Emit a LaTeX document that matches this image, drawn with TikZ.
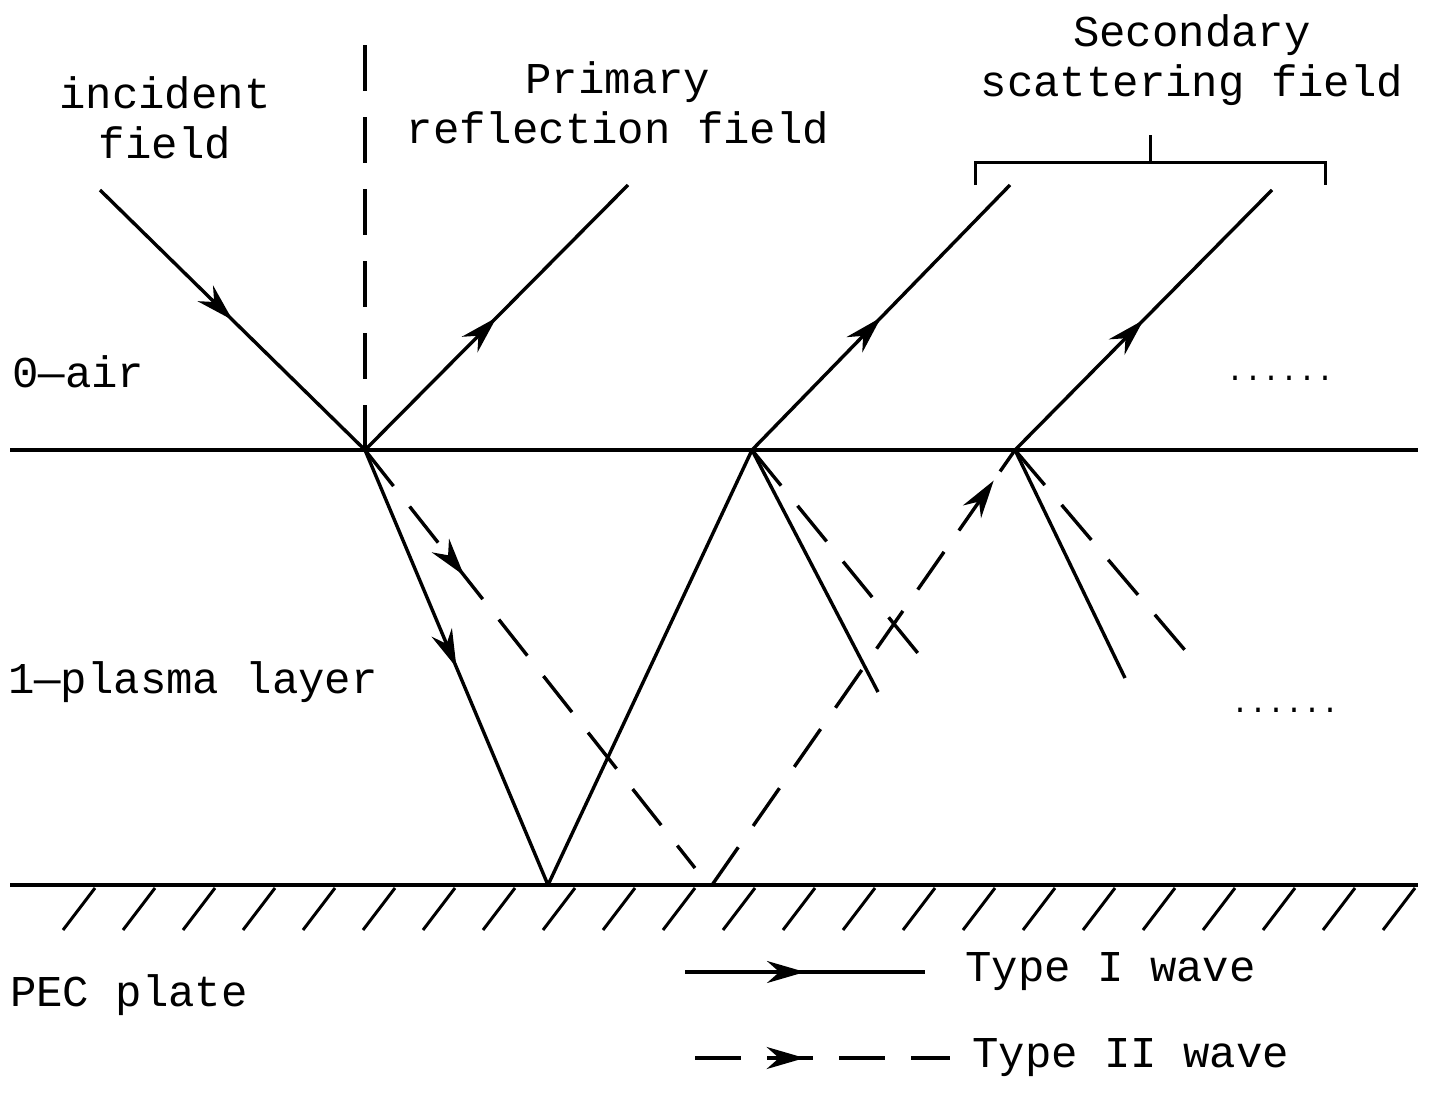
\documentclass[tikz,border=0pt]{standalone}
\usepackage{fontspec}
\setmainfont{Liberation Mono}
\usetikzlibrary{arrows.meta,decorations.markings}
\begin{document}
\begin{tikzpicture}[x=1pt,y=-1pt,
  ln/.style={line width=3.4pt},
  dsh/.style={line width=3.4pt,dash pattern=on 46pt off 26pt},
  arr/.style={postaction={decorate},decoration={markings,mark=at position #1 with {\arrow[solid]{Stealth[length=38pt,width=22pt]}}}},
  lbl/.style={font=\fontsize{44}{50}\selectfont,inner sep=0pt,align=center}]
\useasboundingbox (0,0) rectangle (1441,1095);
% interfaces
\coordinate (L1) at (10,450); \coordinate (R1) at (1418,450);
\coordinate (L2) at (10,885); \coordinate (R2) at (1418,885);
\draw[ln] (L1) -- (R1);
\draw[ln] (L2) -- (R2);
\foreach \x in {95,155,...,1415} \draw[line width=3pt] (\x,888) -- (\x-32,930);
% normal
\coordinate (N1) at (365,45); \coordinate (P) at (365,450);
\draw[dsh] (N1) -- (P);
% points
\coordinate (I) at (100,190);
\coordinate (PR) at (628,185);
\coordinate (B1) at (548,885);
\coordinate (Q) at (752,450);
\coordinate (S1) at (1010,185);
\coordinate (B2) at (712,885);
\coordinate (B2e) at (695,868);
\coordinate (T) at (1015,450);
\coordinate (S2) at (1272,190);
\coordinate (Qa) at (878,692);
\coordinate (Qb) at (930,668);
\coordinate (Ta) at (1125,678);
\coordinate (Tb) at (1195,662);
\draw[ln,arr=0.5] (I) -- (P);
\draw[ln,arr=0.5] (P) -- (PR);
\draw[ln,arr=0.5] (P) -- (B1);
\draw[ln] (B1) -- (Q);
\draw[ln,arr=0.5] (Q) -- (S1);
\draw[dsh,arr=0.3] (P) -- (B2e);
\draw[dsh,arr=0.93] (B2) -- (T);
\draw[ln,arr=0.5] (T) -- (S2);
\draw[ln] (Q) -- (Qa);
\draw[dsh] (Q) -- (Qb);
\draw[ln] (T) -- (Ta);
\draw[dsh] (T) -- (Tb);
% bracket
\coordinate (Ba) at (975,185); \coordinate (Bb) at (1325,185); \coordinate (Bm) at (1150,162); \coordinate (Bt) at (1150,135);
\draw[line width=3pt] (Ba) -- (975,162) -- (1325,162) -- (Bb);
\draw[line width=3pt] (Bm) -- (Bt);
% labels
\node[lbl] (t1) at (165,118) {incident\\field};
\node[lbl] (t2) at (618,103) {Primary\\reflection field};
\node[lbl] (t3) at (1192,60) {Secondary\\scattering field};
\node[lbl,anchor=west] (t4) at (12,372) {0—air};
\node[lbl,anchor=west] (t5) at (8,682) {1—plasma layer};
\node[lbl,anchor=west] (t6) at (10,995) {PEC plate};
\node[lbl,font=\fontsize{30}{34}\selectfont] (d1) at (1280,378) {......};
\node[lbl,font=\fontsize{30}{34}\selectfont] (d2) at (1285,710) {......};
% legend
\coordinate (la) at (685,972); \coordinate (lb) at (925,972);
\coordinate (lc) at (695,1058); \coordinate (ld) at (950,1058);
\draw[ln,arr=0.5] (la) -- (lb);
\draw[dsh,arr=0.43] (lc) -- (ld);
\node[lbl,anchor=west] (t7) at (965,972) {Type I wave};
\node[lbl,anchor=west] (t8) at (972,1058) {Type II wave};
\end{tikzpicture}
\end{document}
